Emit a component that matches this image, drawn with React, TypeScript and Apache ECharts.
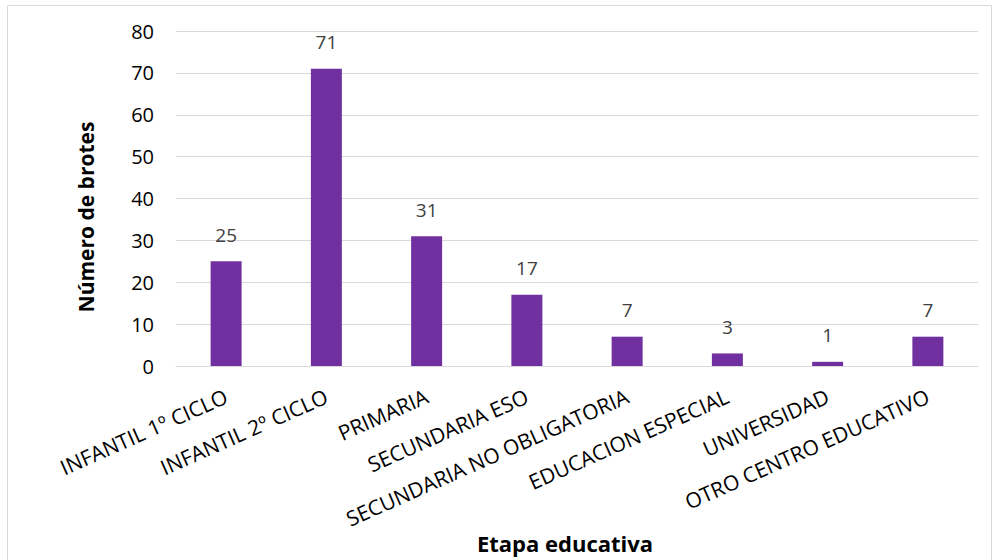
import React, { useEffect, useRef } from "react";
import * as echarts from "echarts";

const categories = [
  "INFANTIL 1º CICLO",
  "INFANTIL 2º CICLO",
  "PRIMARIA",
  "SECUNDARIA ESO",
  "SECUNDARIA NO OBLIGATORIA",
  "EDUCACION ESPECIAL",
  "UNIVERSIDAD",
  "OTRO CENTRO EDUCATIVO",
];
const values = [25, 71, 31, 17, 7, 3, 1, 7];
const yAxisName = "Número de brotes";
const xAxisName = "Etapa educativa";

const FONT = "'Open Sans', 'Noto Sans', sans-serif";

export default function App() {
  const ref = useRef<HTMLDivElement>(null);
  useEffect(() => {
    document.body.style.margin = "0";
    const chart = echarts.init(ref.current!, null, { renderer: "svg" });
    chart.setOption({
      animation: false,
      backgroundColor: "#ffffff",
      textStyle: { fontFamily: FONT },
      graphic: [
        {
          type: "rect",
          shape: { x: 7.5, y: 5.5, width: 984, height: 560 },
          style: { fill: "none", stroke: "#d9d9d9", lineWidth: 1 },
          silent: true,
        },
        {
          type: "text",
          x: 86,
          y: 217,
          rotation: Math.PI / 2,
          style: {
            text: yAxisName,
            fontSize: 21,
            fontWeight: "bold",
            fill: "#000000",
            fontFamily: FONT,
            align: "center",
            verticalAlign: "middle",
          },
          silent: true,
        },
      ],
      grid: {
        left: 176,
        right: 17,
        top: 31,
        bottom: 194,
        containLabel: false,
        outerBoundsMode: "none",
      },
      xAxis: {
        type: "category",
        data: categories,
        axisLine: { show: true, lineStyle: { color: "#d9d9d9", width: 1 } },
        axisTick: { show: false },
        axisLabel: {
          rotate: 24,
          interval: 0,
          margin: 29,
          fontSize: 21,
          color: "#000000",
          fontFamily: FONT,
        },
        name: xAxisName,
        nameLocation: "middle",
        nameGap: 166,
        nameMoveOverlap: false,
        nameTextStyle: {
          fontSize: 22,
          fontWeight: "bold",
          color: "#000000",
          fontFamily: FONT,
          padding: [0, 24, 0, 0],
        },
      },
      yAxis: {
        type: "value",
        min: 0,
        max: 80,
        interval: 10,
        axisLine: { show: false },
        axisTick: { show: false },
        splitLine: { lineStyle: { color: "#d9d9d9", width: 1 } },
        axisLabel: { fontSize: 20, color: "#000000", margin: 22, fontFamily: FONT },
      },
      series: [
        {
          type: "bar",
          data: values,
          barWidth: 31,
          itemStyle: { color: "#7030a0" },
          label: {
            show: true,
            position: "top",
            distance: 17,
            fontSize: 19,
            color: "#404040",
            fontFamily: FONT,
          },
        },
      ],
    });
    return () => chart.dispose();
  }, []);
  return <div ref={ref} style={{ width: 995, height: 560 }} />;
}
